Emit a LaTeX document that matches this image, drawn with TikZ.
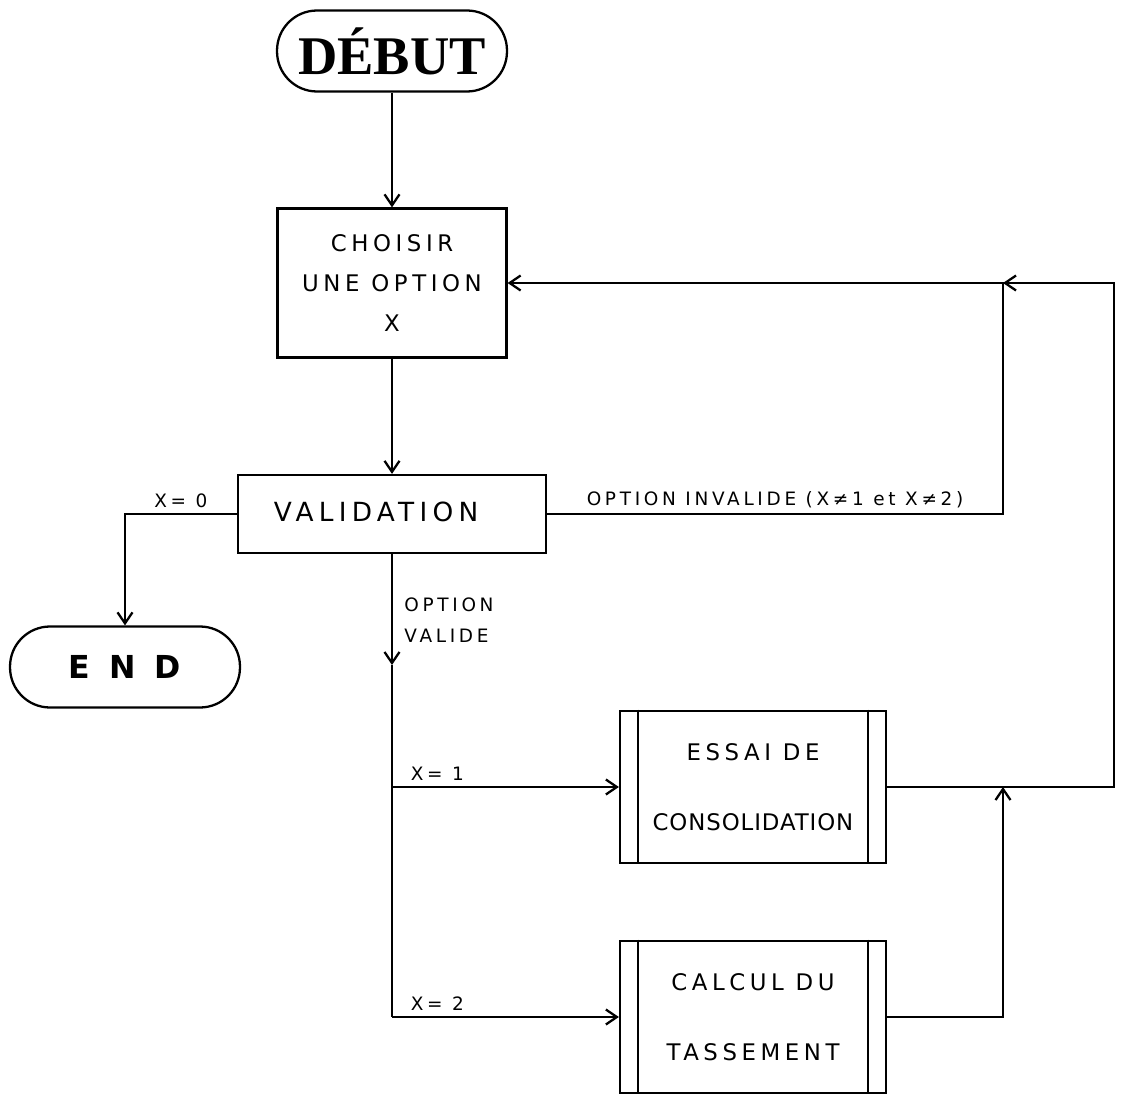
\documentclass[tikz,border=0pt]{standalone}
\usepackage{fontspec}
\setmainfont{DejaVu Sans}[LetterSpace=20]
\newfontfamily\titlefont{Liberation Serif}
\usetikzlibrary{arrows.meta}

\begin{document}
\begin{tikzpicture}[x=0.02cm,y=-0.02cm,line width=1.3pt,>={Straight Barb[length=2.2mm,width=3mm]},
  term/.style={draw,rounded corners=.8cm,minimum width=4.6cm,minimum height=1.62cm},
  box/.style={draw,align=center,font=\fontsize{13}{23}\selectfont},
  proc/.style={draw,align=center,minimum width=5.32cm,minimum height=3.05cm,font=\fontsize{13}{40}\selectfont},
  lbl/.style={font=\fontsize{10.5}{18}\selectfont,inner sep=3pt}]
\useasboundingbox (0,0) rectangle (1126,1098);
\node[term,font=\titlefont\bfseries\fontsize{31}{31}\selectfont] (debut) at (392,51) {DÉBUT};
\node[box,minimum width=4.58cm,minimum height=2.98cm] (choix) at (392,283) {CHOISIR\\UNE OPTION\\X};
\node[box,minimum width=6.16cm,minimum height=1.56cm,font=\fontsize{15}{16}\selectfont] (valid) at (392,514) {\raisebox{3pt}{VALIDATION}\hspace*{18pt}};
\node[term,font=\bfseries\fontsize{18}{18}\selectfont\addfontfeatures{LetterSpace=60}] (fin) at (125,667) {END};
\node[proc] (essai) at (753,787) {ESSAI DE\\{\addfontfeatures{LetterSpace=4}CONSOLIDATION}};
\node[proc] (calcul) at (753,1017) {CALCUL DU\\TASSEMENT};
% double sides of the sub-process boxes
\foreach \p in {essai,calcul}{
  \draw ([xshift=.38cm]\p.north west) -- ([xshift=.38cm]\p.south west);
  \draw ([xshift=-.38cm]\p.north east) -- ([xshift=-.38cm]\p.south east);
}
\coordinate (j) at (1003,283);
\coordinate (r) at (1114,283);
\coordinate (m) at (1003,787);
\coordinate (a) at (392,665);
\coordinate (b1) at (392,787);
\coordinate (b2) at (392,1017);
\draw[->] (debut) -- (choix);
\draw[->] (choix) -- (valid);
\draw[->] (valid.west) -| node[lbl,pos=.25,above]{X= 0} (fin.north);
\draw[->] (valid.east) -| node[lbl,pos=.25,above]{OPTION INVALIDE (X≠1 et X≠2)} (j) -- (choix.east);
\draw[->] (essai.east) -| (r) -- (j);
\draw[->] (calcul.east) -| (m);
\draw[->] (valid.south) -- (a);
\node[lbl,anchor=west,align=left] (ov) at (398,620) {OPTION\\VALIDE};
\draw (a) -- (b2);
\draw[->] (b1) -- node[lbl,pos=.2,above]{X= 1} (essai.west);
\draw[->] (b2) -- node[lbl,pos=.2,above]{X= 2} (calcul.west);
\end{tikzpicture}
\end{document}
